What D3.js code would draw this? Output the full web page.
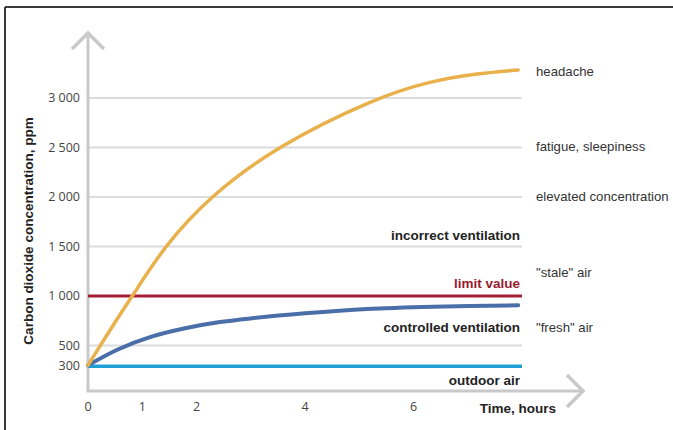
<!DOCTYPE html>
<html>
<head>
<meta charset="utf-8">
<script src="https://cdn.jsdelivr.net/npm/d3@7/dist/d3.min.js"></script>
<style>
  html, body { margin: 0; padding: 0; background: #fff; }
  svg { display: block; }
</style>
</head>
<body>
<svg id="chart" width="673" height="430"></svg>
<script>
// ---- Data ----
const hours = [0, 1, 2, 4, 6];
const yTicks = [300, 500, 1000, 1500, 2000, 2500, 3000];
const yTickLabels = ["300", "500", "1 000", "1 500", "2 000", "2 500", "3 000"];
const gridValues = [500, 1500, 2000, 2500, 3000];

// incorrect ventilation (yellow)
const incorrectT   = [0, 0.5, 0.82, 1.40, 2.25, 3.50, 5.30, 6.30, 7.20, 7.93];
const incorrectPpm = [300, 740, 1000, 1500, 2010, 2520, 3000, 3170, 3250, 3283];
// controlled ventilation (blue)
const controlledT   = [0, 0.56, 1.17, 1.79, 2.40, 3.02, 4.00, 5.14, 6.36, 7.93];
const controlledPpm = [300, 462, 589, 674, 734, 775, 825, 869, 892, 906];
// constant levels
const limitValue = 1000;
const outdoorValue = 300;
const xMax = 8;

// right-hand effect labels
const effectLabels = ["headache", "fatigue, sleepiness", "elevated concentration", "\"stale\" air", "\"fresh\" air"];
const effectLevels = [3270, 2510, 2010, 1240, 680];

const svg = d3.select("#chart");

// frame
svg.append("line").attr("x1", 5).attr("y1", 7).attr("x2", 673).attr("y2", 7)
  .attr("stroke", "#3a3a3a").attr("stroke-width", 2);
svg.append("line").attr("x1", 5).attr("y1", 7).attr("x2", 5).attr("y2", 430)
  .attr("stroke", "#3a3a3a").attr("stroke-width", 2);

const x = d3.scaleLinear().domain([0, xMax]).range([88, 522]);
const y = d3.scaleLinear().domain([0, 3000]).range([395, 98]);

const axisY = 391;
const gray = "#c9c9c9";

// gridlines
svg.append("g").selectAll("line").data(gridValues).join("line")
  .attr("x1", x(0)).attr("x2", x(xMax))
  .attr("y1", d => y(d)).attr("y2", d => y(d))
  .attr("stroke", "#dcdcdc").attr("stroke-width", 2);

// axes with arrows
svg.append("line").attr("x1", x(0)).attr("y1", axisY).attr("x2", x(0)).attr("y2", 33)
  .attr("stroke", gray).attr("stroke-width", 3);
svg.append("path").attr("d", "M72,49 L88,33 L104,49")
  .attr("fill", "none").attr("stroke", gray).attr("stroke-width", 3.5);
svg.append("line").attr("x1", x(0) - 1.5).attr("y1", axisY).attr("x2", 583).attr("y2", axisY)
  .attr("stroke", gray).attr("stroke-width", 3);
svg.append("path").attr("d", "M567,375 L583,391 L567,407")
  .attr("fill", "none").attr("stroke", gray).attr("stroke-width", 3.5);

// y tick labels
svg.append("g").selectAll("text").data(yTicks).join("text")
  .attr("x", 80).attr("y", d => y(d)).attr("dy", "0.35em")
  .attr("text-anchor", "end")
  .attr("font-family", "'Open Sans', sans-serif").attr("font-size", 12.5)
  .attr("fill", "#444")
  .text((d, i) => yTickLabels[i]);

// x tick labels
svg.append("g").selectAll("text").data(hours).join("text")
  .attr("x", d => x(d)).attr("y", 407).attr("dy", "0.35em")
  .attr("text-anchor", "middle")
  .attr("font-family", "'Open Sans', sans-serif").attr("font-size", 12.5)
  .attr("fill", "#444")
  .text(d => d);

// y title
svg.append("text")
  .attr("transform", "translate(33,231) rotate(-90)")
  .attr("text-anchor", "middle")
  .attr("font-family", "'Liberation Sans', Arial, sans-serif")
  .attr("font-weight", "bold").attr("font-size", 13.5)
  .attr("fill", "#222")
  .text("Carbon dioxide concentration, ppm");

// x title
svg.append("text")
  .attr("x", 556).attr("y", 408).attr("dy", "0.35em")
  .attr("text-anchor", "end")
  .attr("font-family", "'Liberation Sans', Arial, sans-serif")
  .attr("font-weight", "bold").attr("font-size", 13.5)
  .attr("fill", "#222")
  .text("Time, hours");

// constant lines
svg.append("line").attr("x1", x(0)).attr("x2", x(xMax))
  .attr("y1", y(limitValue)).attr("y2", y(limitValue))
  .attr("stroke", "#a61e35").attr("stroke-width", 3);
svg.append("line").attr("x1", x(0)).attr("x2", x(xMax))
  .attr("y1", y(outdoorValue) + 1).attr("y2", y(outdoorValue) + 1)
  .attr("stroke", "#1f9fd6").attr("stroke-width", 3.5);

const lineB = d3.line().x(d => x(d[0])).y(d => y(d[1])).curve(d3.curveBasis);
const lineC = d3.line().x(d => x(d[0])).y(d => y(d[1])).curve(d3.curveCatmullRom.alpha(0.5));

svg.append("path")
  .datum(controlledT.map((t, i) => [t, controlledPpm[i]]))
  .attr("d", lineC).attr("fill", "none")
  .attr("stroke", "#4a6ea8").attr("stroke-width", 4).attr("stroke-linecap", "round");

svg.append("path")
  .datum(incorrectT.map((t, i) => [t, incorrectPpm[i]]))
  .attr("d", lineB).attr("fill", "none")
  .attr("stroke", "#e8b14c").attr("stroke-width", 3.5).attr("stroke-linecap", "round");

// bold in-chart labels
const boldLabels = [
  { text: "incorrect ventilation", v: 1615, color: "#222" },
  { text: "limit value", v: 1130, color: "#9b1b30" },
  { text: "controlled ventilation", v: 680, color: "#222" },
  { text: "outdoor air", v: 150, color: "#222" }
];
svg.append("g").selectAll("text").data(boldLabels).join("text")
  .attr("x", 520).attr("y", d => y(d.v)).attr("dy", "0.35em")
  .attr("text-anchor", "end")
  .attr("font-family", "'Liberation Sans', Arial, sans-serif")
  .attr("font-weight", "bold").attr("font-size", 13.5)
  .attr("fill", d => d.color)
  .text(d => d.text);

// effect labels at right
svg.append("g").selectAll("text").data(effectLabels).join("text")
  .attr("x", 536).attr("y", (d, i) => y(effectLevels[i])).attr("dy", "0.35em")
  .attr("font-family", "'Liberation Sans', Arial, sans-serif")
  .attr("font-size", 13.2)
  .attr("fill", "#333")
  .text(d => d);
</script>
</body>
</html>
